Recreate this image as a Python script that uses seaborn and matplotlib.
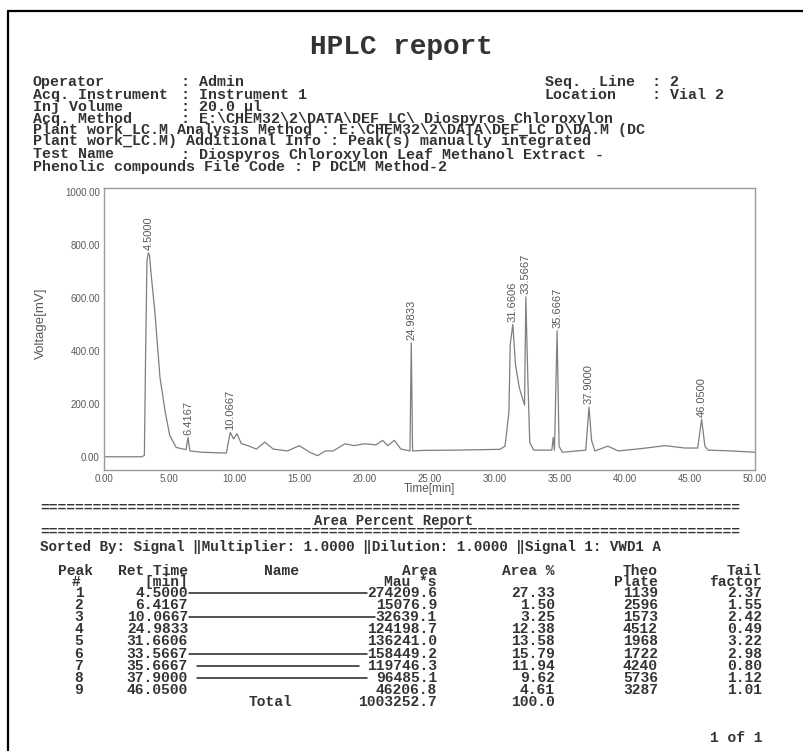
import seaborn as sns
from matplotlib import pyplot as plt
from matplotlib import lines as mlines
import pandas as pd
import numpy as np

# chromatogram trace (time [min], signal [mV])
time_min = [0.0, 2.9, 3.1, 3.2, 3.3, 3.4, 3.5, 3.6, 3.9, 4.3, 4.7, 5.05, 5.55, 6.3, 6.45,
            6.6, 7.5, 9.4, 9.55, 9.7, 9.95, 10.2, 10.55, 11.05, 11.7, 12.35, 13.0, 14.1,
            15.0, 15.8, 16.4, 17.0, 17.6, 18.5, 19.2, 20.0, 20.9, 21.4, 21.8, 22.3, 22.8,
            23.5, 23.6, 23.7, 24.5, 27.0, 30.4, 30.8, 31.1, 31.2, 31.4, 31.6, 31.9, 32.3,
            32.4, 32.55, 32.7, 33.0, 34.4, 34.5, 34.6, 34.8, 34.95, 35.2, 37.0, 37.25,
            37.45, 37.7, 38.7, 39.5, 41.3, 43.1, 44.6, 45.6, 45.9, 46.15, 46.4, 48.2, 50.0]
voltage_mv = [0, 0, 5, 400, 740, 770, 760, 700, 550, 300, 170, 80, 35, 27, 73,
              22, 17, 14, 55, 92, 67, 87, 50, 42, 29, 55, 29, 22,
              42, 17, 4, 22, 22, 49, 42, 49, 45, 62, 42, 62, 29,
              22, 430, 22, 24, 25, 28, 40, 168, 424, 500, 350, 260, 195,
              604, 300, 54, 25, 25, 73, 25, 476, 40, 17, 25, 188,
              62, 22, 40, 22, 31, 42, 33, 33, 142, 40, 25, 22, 17]

# peak annotations: label text and where the apex sits on the drawn trace
peak_labels = ["4.5000", "6.4167", "10.0667", "24.9833", "31.6606",
               "33.5667", "35.6667", "37.9000", "46.0500"]
peak_apex_min = [3.4, 6.45, 9.7, 23.6, 31.4, 32.4, 34.8, 37.25, 45.9]

# area percent table
peak_no = [1, 2, 3, 4, 5, 6, 7, 8, 9]
ret_time = ["4.5000", "6.4167", "10.0667", "24.9833", "31.6606",
            "33.5667", "35.6667", "37.9000", "46.0500"]
area = ["274209.6", "15076.9", "32639.1", "124198.7", "136241.0",
        "158449.2", "119746.3", "96485.1", "46206.8"]
area_pct = ["27.33", "1.50", "3.25", "12.38", "13.58", "15.79", "11.94", "9.62", "4.61"]
theo_plate = ["1139", "2596", "1573", "4512", "1968", "1722", "4240", "5736", "3287"]
tail_factor = ["2.37", "1.55", "2.42", "0.49", "3.22", "2.98", "0.80", "1.12", "1.01"]
total_area = "1003252.7"
total_pct = "100.0"
leader_rows = [1, 3, 6, 7, 8]

# header block
header_fields = [("Operator", "Admin"),
                 ("Acq. Instrument", "Instrument 1"),
                 ("Inj Volume", "20.0 \u00b5l"),
                 ("Acq. Method", "E:\\CHEM32\\2\\DATA\\DEF_LC\\ Diospyros Chloroxylon")]
header_lines = ["Plant work_LC.M Analysis Method : E:\\CHEM32\\2\\DATA\\DEF_LC D\\DA.M (DC",
                "Plant work_LC.M) Additional Info : Peak(s) manually integrated"]
test_field = ("Test Name", "Diospyros Chloroxylon Leaf Methanol Extract -")
last_line = "Phenolic compounds File Code : P DCLM Method-2"
right_fields = [("Seq.  Line", "2"), ("Location", "Vial 2")]

W, H = 804, 751
MONO = ["Liberation Mono", "DejaVu Sans Mono"]
SANS = ["Liberation Sans", "DejaVu Sans"]
INK = "#333333"
GREY = "#595959"


def fx(x):
	return x / W


def fy(y):
	return 1 - y / H


def mono(x, y, s, size=10.5, ha="left", **kw):
	fig.text(fx(x), fy(y), s, ha=ha, va="center", fontsize=size, family=MONO,
		weight="bold", color=INK, **kw)


sns.set_theme(style="white")
plt.rcParams["font.family"] = SANS

fig = plt.figure(figsize=(W / 100, H / 100), dpi=100)
fig.patch.set_facecolor("white")

# page frame (top and left edges of the scan)
fig.add_artist(mlines.Line2D([fx(8), fx(804)], [fy(11), fy(11)], color="black", lw=1.6))
fig.add_artist(mlines.Line2D([fx(8), fx(8)], [fy(11), fy(751)], color="black", lw=1.6))

# title + header
mono(401, 47, "HPLC report", size=20, ha="center")
hy = [82, 95, 107, 118.5]
for (lab, val), y in zip(header_fields, hy):
	mono(33, y, lab, size=10.8)
	mono(181, y, ": " + val, size=10.8)
for s, y in zip(header_lines, [130, 141.5]):
	mono(33, y, s, size=10.8)
mono(33, 154.5, test_field[0], size=10.8)
mono(181, 154.5, ": " + test_field[1], size=10.8)
mono(33, 166.5, last_line, size=10.8)
for (lab, val), y in zip(right_fields, [82, 95]):
	mono(545, y, lab, size=10.8)
	mono(652, y, ": " + val, size=10.8)

# chromatogram
ax = fig.add_axes([fx(104), fy(470), (755 - 104) / W, (470 - 188) / H])
trace = pd.DataFrame({"Time[min]": time_min, "Voltage[mV]": voltage_mv})
sns.lineplot(data=trace, x="Time[min]", y="Voltage[mV]", ax=ax, color="#7f7f7f",
	linewidth=0.9, estimator=None, sort=False)
ax.set_xlim(0, 50)
ax.set_ylim(-50, 1015)
xt = np.arange(0, 51, 5)
yt = np.arange(0, 1001, 200)
ax.set_xticks(xt)
ax.set_yticks(yt)
ax.set_xticklabels([f"{v:.2f}" for v in xt])
ax.set_yticklabels([f"{v:.2f}" for v in yt])
ax.tick_params(length=0, labelsize=7, colors=GREY, pad=3)
for sp in ax.spines.values():
	sp.set_color("#9a9a9a")
	sp.set_linewidth(1)
ax.set_xlabel("Time[min]", fontsize=8.5, color=GREY)
ax.set_ylabel("Voltage[mV]", fontsize=9.5, color=GREY)
ax.xaxis.label.set_va("center")
ax.xaxis.set_label_coords(0.5, -0.068)
ax.yaxis.set_label_coords(-0.088, 0.52)
for lab, t in zip(peak_labels, peak_apex_min):
	v = voltage_mv[int(np.argmin(np.abs(np.array(time_min) - t)))]
	ax.text(t, v + 10, lab, rotation=90, ha="center", va="bottom", fontsize=8, color=GREY)

# area percent report
sep = "=" * 80
mono(40, 508, sep, size=10.5)
mono(394, 521, "Area Percent Report", size=10, ha="center")
mono(40, 532, sep, size=10.5)
mono(40, 547, "Sorted By: Signal \u2016Multiplier: 1.0000 \u2016Dilution: 1.0000 \u2016Signal 1: VWD1 A",
	size=10.3)

mono(76, 571, "Peak", ha="center")
mono(76, 582, "#", ha="center")
mono(188, 571, "Ret Time", ha="right")
mono(188, 582, "[min]", ha="right")
mono(264, 571, "Name")
mono(437, 571, "Area", ha="right")
mono(437, 582, "Mau *s", ha="right")
mono(555, 571, "Area %", ha="right")
mono(658, 571, "Theo", ha="right")
mono(658, 582, "Plate", ha="right")
mono(762, 571, "Tail", ha="right")
mono(762, 582, "factor", ha="right")

for i, n in enumerate(peak_no):
	y = 593 + 12.1 * i
	mono(79, y, str(n), ha="center")
	mono(188, y, ret_time[i], ha="right")
	mono(437, y, area[i], ha="right")
	mono(555, y, area_pct[i], ha="right")
	mono(658, y, theo_plate[i], ha="right")
	mono(762, y, tail_factor[i], ha="right")
	# leader rules that run from the retention time to the area in some rows
	if n in leader_rows:
		gap = 8 if n >= 7 else 0
		x0 = 188 + gap + 1
		x1 = 437 - 8.8 * len(area[i]) - gap
		fig.add_artist(mlines.Line2D([fx(x0), fx(x1)], [fy(y), fy(y)], color="#222222", lw=1.1))

ty = 593 + 12.1 * 9
mono(292, ty, "Total", ha="right")
mono(437, ty, total_area, ha="right")
mono(555, ty, total_pct, ha="right")
mono(763, 738, "1 of 1", ha="right")

fig.savefig("out.png", dpi=100, facecolor="white")
